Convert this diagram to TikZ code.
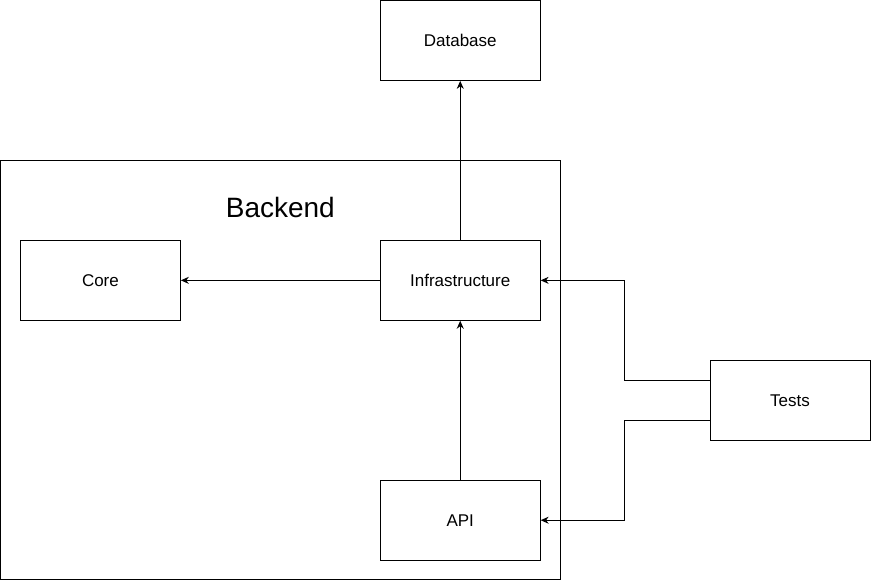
\documentclass[tikz,border=0pt]{standalone}
\usepackage{fontspec}
\setmainfont{Liberation Sans}
\usetikzlibrary{arrows.meta,positioning}

\begin{document}
\begin{tikzpicture}[x=1pt,y=-1pt]
    \tikzstyle{block} = [draw, line width=0.9pt, rectangle, minimum width=160pt, minimum height=80pt, inner sep=0pt, font=\fontsize{17}{20}\selectfont]
    \tikzstyle{link} = [line width=0.9pt, -{Stealth[length=8pt,width=7pt]}]

    \useasboundingbox (-0.5,-0.5) rectangle (871,581);

    % backend container
    \node[draw, line width=0.9pt, minimum width=560pt, minimum height=419pt, inner sep=0pt] (backend) at (280,369.5) {};
    \node[font=\fontsize{28}{32}\selectfont] (backendlabel) at (280,207) {Backend};

    \node[block] (db) at (460,40) {Database};
    \node[block] (core) at (100,280) {Core};
    \node[block] (infra) at (460,280) {Infrastructure};
    \node[block] (api) at (460,520) {API};
    \node[block] (tests) at (790,400) {Tests};

    \draw[link] (infra) -- (db);
    \draw[link] (infra) -- (core);
    \draw[link] (api) -- (infra);

    % tests reach into the backend
    \draw[link] ([yshift=20pt]tests.west) -- ++(-85,0) |- (infra.east);
    \draw[link] ([yshift=-20pt]tests.west) -- ++(-85,0) |- (api.east);
  \end{tikzpicture}
\end{document}
